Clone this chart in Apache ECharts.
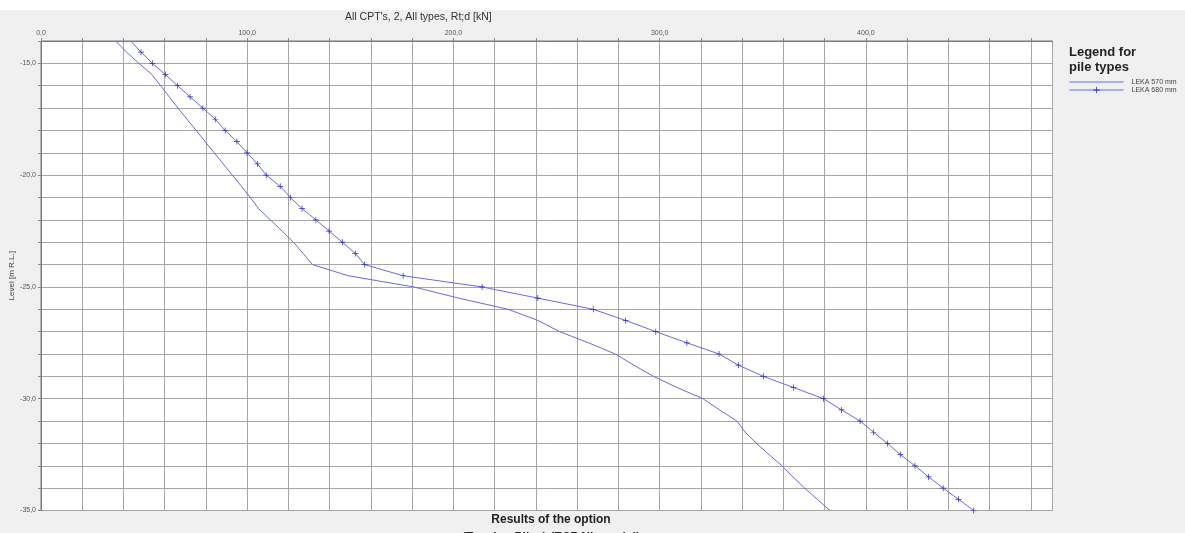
<!DOCTYPE html>
<html>
<head>
<meta charset="utf-8">
<script src="https://cdn.jsdelivr.net/npm/echarts@6/dist/echarts.min.js"></script>
<style>
html,body{margin:0;padding:0;background:#f0f0f0;}
#chart{width:1185px;height:533px;}
</style>
</head>
<body>
<div id="chart"></div>
<script>
// ---- data ----
const chartTitle = "All CPT's, 2, All types, Rt;d [kN]";
const yAxisTitle = "Level [m R.L.]";
const bottomTitle1 = "Results of the option";
const bottomTitle2 = "(Tension Piles) (EC7-NL model)";
const legendTitle = "Legend for\npile types";
const seriesNames = ["LEKA 570 mm", "LEKA 680 mm"];

const levels = [-14, -14.5, -15, -15.5, -16, -16.5, -17, -17.5, -18, -18.5, -19, -19.5, -20, -20.5,
  -21, -21.5, -22, -22.5, -23, -23.5, -24, -24.5, -25, -25.5, -26, -26.5, -27, -27.5, -28, -28.5,
  -29, -29.5, -30, -30.5, -31, -31.5, -32, -32.5, -33, -33.5, -34, -34.5, -35];

const leka570 = [36.2, 41.5, 47.5, 53.8, 58.0, 62.2, 66.4, 70.8, 75.2, 79.6, 84.0, 88.4, 92.8, 97.2,
  101.5, 105.5, 111.2, 116.9, 122.4, 127.1, 131.6, 149.0, 180.7, 202.5, 226.5, 241.0, 251.5, 265.5, 278.5, 287.5,
  297.0, 308.5, 321.0, 329.0, 337.5, 341.5, 347.0, 353.0, 359.3, 364.7, 370.3, 376.5, 382.5];

const leka680 = [43.5, 48.5, 54.0, 60.3, 66.2, 72.3, 78.5, 84.5, 89.3, 95.0, 99.9, 105.0, 109.2, 116.0,
  120.9, 126.6, 133.3, 139.7, 146.1, 152.4, 156.9, 175.6, 213.9, 240.9, 267.8, 283.5, 298.1, 313.2, 328.8, 338.2,
  350.3, 364.9, 379.5, 388.2, 397.2, 403.7, 410.5, 416.7, 423.8, 430.4, 437.5, 444.9, 452.3];

const xMin = 0, xMax = 490.5, xStep = 20, xLabelStep = 100;
const yMin = -35, yMax = -14, yStep = 1, yLabelStep = 5;

// ---- chart ----
const fmt = v => v.toFixed(1).replace('.', ',');
const lineColor = '#6a6ae2';
const markColor = '#2a2ad0';
const plus = 'path://M-1,-0.12 L1,-0.12 L1,0.12 L-1,0.12 Z M-0.12,-1 L0.12,-1 L0.12,1 L-0.12,1 Z';
const font = '"Liberation Sans", Arial, sans-serif';

const d570 = levels.map((y, i) => [leka570[i], y]);
const d680 = levels.map((y, i) => i === 0 ? {value: [leka680[i], y], symbol: 'none'} : [leka680[i], y]);

const chart = echarts.init(document.getElementById('chart'), null, {renderer: 'canvas'});
chart.setOption({
  backgroundColor: '#f0f0f0',
  animation: false,
  textStyle: {fontFamily: font},
  grid: {left: 41, top: 41, right: 132.5, bottom: 22.5, show: true, backgroundColor: '#ffffff',
    borderColor: '#7a7a7a', borderWidth: 1, containLabel: false, outerBoundsMode: 'none'},
  xAxis: {
    type: 'value', position: 'top', min: xMin, max: xMax, interval: xStep,
    axisLine: {show: true, lineStyle: {color: '#7a7a7a', width: 1}},
    axisTick: {show: true, length: 3, lineStyle: {color: '#8a8a8a'}},
    axisLabel: {fontSize: 7, color: '#555', margin: 4, fontFamily: font,
      formatter: v => (Math.abs(v % xLabelStep) < 1e-6 ? fmt(v) : ''),
      showMaxLabel: false},
    splitLine: {show: true, lineStyle: {color: '#a6a6a6', width: 1}}
  },
  yAxis: {
    type: 'value', min: yMin, max: yMax, interval: yStep,
    name: yAxisTitle, nameLocation: 'middle', nameGap: 25, nameRotate: 90, nameMoveOverlap: false,
    nameTextStyle: {fontSize: 8, color: '#444', fontFamily: font},
    axisLine: {show: true, lineStyle: {color: '#7a7a7a', width: 1}},
    axisTick: {show: true, length: 3, lineStyle: {color: '#8a8a8a'}},
    axisLabel: {fontSize: 7, color: '#555', margin: 5, fontFamily: font,
      formatter: v => (Math.abs(v % yLabelStep) < 1e-6 ? fmt(v) : '')},
    splitLine: {show: true, lineStyle: {color: '#a6a6a6', width: 1}}
  },
  legend: {
    orient: 'vertical', left: 1069, top: 78.5, padding: 0, itemGap: 1,
    itemWidth: 54, itemHeight: 8,
    textStyle: {fontSize: 7, color: '#444', fontFamily: font, padding: [0, 0, 0, 3]},
    data: [
      {name: seriesNames[0], itemStyle: {opacity: 0}, lineStyle: {color: lineColor, width: 1}},
      {name: seriesNames[1], lineStyle: {color: lineColor, width: 1}}
    ]
  },
  graphic: [
    {type: 'rect', left: 0, top: 0, shape: {width: 1185, height: 10}, style: {fill: '#ffffff'}, silent: true},
    {type: 'text', left: 345, top: 12, style: {text: chartTitle, font: '10.5px ' + font, fill: '#333'}},
    {type: 'text', left: 1069, top: 45, style: {text: legendTitle, font: 'bold 13px ' + font, fill: '#222', lineHeight: 15}},
    {type: 'text', x: 551, y: 514, style: {text: bottomTitle1, font: 'bold 12px ' + font, fill: '#222', align: 'center'}},
    {type: 'text', x: 551, y: 532, style: {text: bottomTitle2, font: 'bold 12px ' + font, fill: '#222', align: 'center'}}
  ],
  series: [
    {name: seriesNames[0], type: 'line', data: d570, symbol: 'none',
      lineStyle: {color: lineColor, width: 1}, itemStyle: {color: lineColor}},
    {name: seriesNames[1], type: 'line', data: d680, symbol: plus, symbolSize: 6, showSymbol: true,
      lineStyle: {color: lineColor, width: 1}, itemStyle: {color: markColor}}
  ]
});
</script>
</body>
</html>
